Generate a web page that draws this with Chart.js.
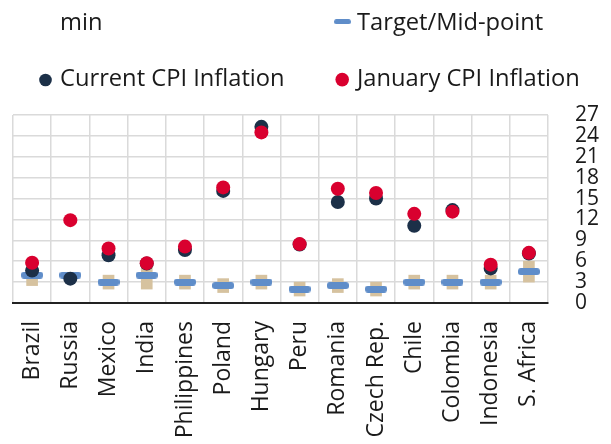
<!DOCTYPE html>
<html>
<head>
<meta charset="utf-8">
<script src="https://cdn.jsdelivr.net/npm/chart.js@4.4.1/dist/chart.umd.min.js"></script>
<style>
  html, body { margin: 0; padding: 0; background: #ffffff; }
  #wrap { position: relative; width: 611px; height: 444px; }
</style>
</head>
<body>
<div id="wrap"><canvas id="c" width="611" height="444"></canvas></div>
<script>
// ---- data ----
const categories = ['Brazil', 'Russia', 'Mexico', 'India', 'Philippines', 'Poland', 'Hungary', 'Peru', 'Romania', 'Czech Rep.', 'Chile', 'Colombia', 'Indonesia', 'S. Africa'];
const targetLow  = [2.5, 4, 2, 2, 2, 1.5, 2, 1, 1.5, 1, 2, 2, 2, 3];
const targetHigh = [5.5, 4, 4, 6, 4, 3.5, 4, 3, 3.5, 3, 4, 4, 4, 6];
const midpoint   = [4, 4, 3, 4, 3, 2.5, 3, 2, 2.5, 2, 3, 3, 3, 4.5];
const currentCPI = [4.65, 3.5, 6.85, 5.66, 7.6, 16.1, 25.3, 8.4, 14.5, 15.0, 11.1, 13.34, 4.97, 7.1];
const januaryCPI = [5.79, 11.9, 7.82, 5.72, 8.1, 16.6, 24.5, 8.46, 16.4, 15.8, 12.8, 13.12, 5.51, 7.2];
const yTicks = [0, 3, 6, 9, 12, 15, 18, 21, 24, 27];
const seriesLabels = ['min', 'Target/Mid-point', 'Current CPI Inflation', 'January CPI Inflation'];

const TAN = '#d6c29f', BLUE = '#5f8dc9', NAVY = '#1c3048', RED = '#d9002f';
const FONT = '"Open Sans", "Noto Sans", sans-serif';

function dashCanvas(w, h, r, color) {
  const c = document.createElement('canvas');
  c.width = w; c.height = h;
  const g = c.getContext('2d');
  g.fillStyle = color;
  g.beginPath();
  g.moveTo(r, 0); g.lineTo(w - r, 0); g.arcTo(w, 0, w, r, r); g.lineTo(w, h - r);
  g.arcTo(w, h, w - r, h, r); g.lineTo(r, h); g.arcTo(0, h, 0, h - r, r); g.lineTo(0, r);
  g.arcTo(0, 0, r, 0, r); g.closePath(); g.fill();
  return c;
}

const legendPlugin = {
  id: 'customLegend',
  afterDraw(chart) {
    const ctx = chart.ctx;
    const ds = chart.data.datasets;
    const items = [
      { i: 0, x: 60, y: 29.5, marker: null },
      { i: 1, x: 357, y: 29.5, marker: 'dash', mx: 342.5, my: 21.7 },
      { i: 2, x: 60, y: 86, marker: 'dot', mx: 45.5, my: 80, r: 6.3 },
      { i: 3, x: 357, y: 86, marker: 'dot', mx: 342.2, my: 79.6, r: 6.8 }
    ];
    ctx.save();
    items.forEach(it => {
      const d = ds[it.i];
      if (it.marker === 'dash') {
        ctx.drawImage(dashCanvas(17, 5, 2.5, BLUE), it.mx - 8.5, it.my - 2.5);
      } else if (it.marker === 'dot') {
        ctx.fillStyle = d.backgroundColor;
        ctx.beginPath(); ctx.arc(it.mx, it.my, it.r, 0, Math.PI * 2); ctx.fill();
      }
      ctx.fillStyle = '#1a1a1a';
      ctx.font = '23.7px ' + FONT;
      ctx.textBaseline = 'alphabetic';
      ctx.textAlign = 'left';
      ctx.fillText(d.label, it.x, it.y);
    });
    ctx.restore();
  }
};

function draw() {
  const midStyle = dashCanvas(22, 7, 3, BLUE);
  new Chart(document.getElementById('c'), {
    type: 'bar',
    data: {
      labels: categories,
      datasets: [
        {
          type: 'bar', label: seriesLabels[0],
          data: targetLow.map((v, i) => [v, targetHigh[i]]),
          backgroundColor: TAN, borderWidth: 0, barThickness: 11, order: 4
        },
        {
          type: 'line', label: seriesLabels[1], data: midpoint, showLine: false,
          pointStyle: midStyle, pointRadius: 11, backgroundColor: BLUE, borderColor: BLUE, order: 3
        },
        {
          type: 'line', label: seriesLabels[2], data: currentCPI, showLine: false,
          pointStyle: 'circle', pointRadius: 7, pointBorderWidth: 0,
          backgroundColor: NAVY, borderColor: NAVY, order: 2
        },
        {
          type: 'line', label: seriesLabels[3], data: januaryCPI, showLine: false,
          pointStyle: 'circle', pointRadius: 7, pointBorderWidth: 0,
          backgroundColor: RED, borderColor: RED, order: 1
        }
      ]
    },
    options: {
      responsive: false,
      animation: false,
      events: [],
      layout: { padding: { left: 13, top: 115, right: 0, bottom: 0 } },
      plugins: { legend: { display: false }, tooltip: { enabled: false } },
      scales: {
        x: {
          type: 'category',
          offset: true,
          grid: { offset: true, color: '#dadada', lineWidth: 1.5, drawTicks: false },
          border: { display: true, color: '#222222', width: 2 },
          ticks: {
            autoSkip: false, minRotation: 90, maxRotation: 90, padding: 18,
            color: '#1a1a1a', font: { family: FONT, size: 23 }
          },
          afterFit: s => { s.height = 141; }
        },
        y: {
          position: 'right',
          min: 0, max: 27,
          afterBuildTicks: s => { s.ticks = yTicks.map(v => ({ value: v })); },
          grid: { color: '#dadada', lineWidth: 1.5, drawTicks: false },
          border: { display: false },
          ticks: { autoSkip: false, padding: 27, color: '#1a1a1a', font: { family: FONT, size: 21 } },
          afterFit: s => { s.width = 63; }
        }
      }
    },
    plugins: [legendPlugin]
  });
}

if (document.fonts && document.fonts.load) {
  Promise.all([document.fonts.load('20px "Open Sans"')]).then(draw, draw);
} else { draw(); }
</script>
</body>
</html>
